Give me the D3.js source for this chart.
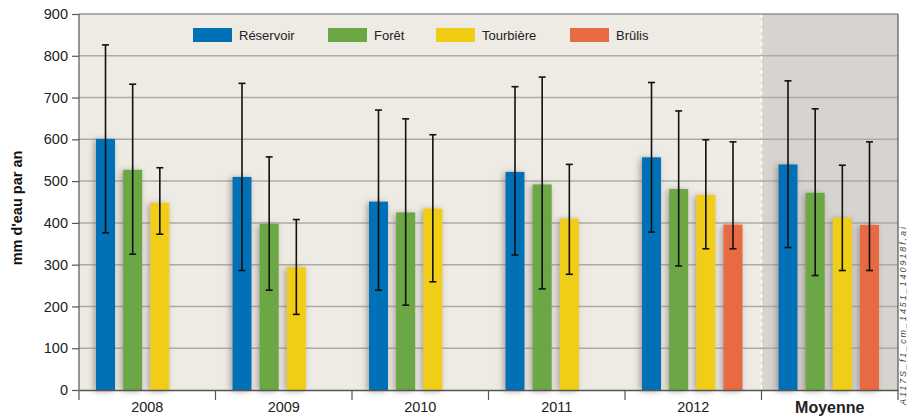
<!DOCTYPE html>
<html>
<head>
<meta charset="utf-8">
<script src="https://cdn.jsdelivr.net/npm/d3@7"></script>
<style>
  html, body { margin: 0; padding: 0; background: #ffffff; }
  svg { display: block; font-family: "Liberation Sans", Arial, sans-serif; }
</style>
</head>
<body>
<svg id="chart" width="912" height="417"></svg>
<script>
// Annual water amounts (mm/year) by site type, with min–max ranges
const categories = ["2008", "2009", "2010", "2011", "2012", "Moyenne"];
const series = ["Réservoir", "Forêt", "Tourbière", "Brûlis"];
const colors = ["#0071b7", "#6ca745", "#f0cd14", "#e86a42"];

const reservoir     = [601, 510, 451, 522, 557, 540];
const reservoirLow  = [376, 286, 239, 323, 378, 341];
const reservoirHigh = [826, 734, 670, 726, 736, 740];

const foret     = [527, 398, 425, 492, 481, 472];
const foretLow  = [325, 239, 203, 242, 297, 274];
const foretHigh = [732, 558, 649, 749, 668, 673];

const tourbiere     = [448, 294, 434, 410, 467, 412];
const tourbiereLow  = [373, 181, 259, 277, 338, 286];
const tourbiereHigh = [532, 408, 611, 540, 599, 538];

const brulis     = [null, null, null, null, 396, 395];
const brulisLow  = [null, null, null, null, 338, 286];
const brulisHigh = [null, null, null, null, 594, 594];

const yTicks = [0, 100, 200, 300, 400, 500, 600, 700, 800, 900];

const valueSets = [
  [reservoir, reservoirLow, reservoirHigh],
  [foret, foretLow, foretHigh],
  [tourbiere, tourbiereLow, tourbiereHigh],
  [brulis, brulisLow, brulisHigh]
];

const rows = [];
categories.forEach((c, i) => {
  series.forEach((s, j) => {
    const [v, lo, hi] = valueSets[j];
    if (v[i] != null) rows.push({ cat: c, ser: s, idx: j, value: v[i], low: lo[i], high: hi[i] });
  });
});

const svg = d3.select("#chart");
const plotL = 79, plotR = 898, plotT = 14, plotB = 390;
const font = "Liberation Sans, Arial, sans-serif";

const x = d3.scaleBand().domain(categories).range([plotL, plotR]).padding(0);
const xs = d3.scaleBand().domain(series)
  .range([17, x.bandwidth() - 19]).paddingInner(0.3).paddingOuter(0);
const y = d3.scaleLinear().domain([0, 900]).range([plotB, plotT]);

const defs = svg.append("defs");
const f = defs.append("filter").attr("id", "barShadow")
  .attr("x", "-60%").attr("y", "-10%").attr("width", "220%").attr("height", "120%");
f.append("feDropShadow").attr("dx", -2).attr("dy", 1).attr("stdDeviation", 3)
  .attr("flood-color", "#6f6a64").attr("flood-opacity", 0.6);

// plot backgrounds
svg.append("rect").attr("x", plotL).attr("y", plotT)
  .attr("width", plotR - plotL).attr("height", plotB - plotT).attr("fill", "#eeeae4");
svg.append("rect").attr("x", x("Moyenne")).attr("y", plotT)
  .attr("width", x.bandwidth()).attr("height", plotB - plotT).attr("fill", "#d7d4cf");

// horizontal gridlines
svg.append("g").selectAll("line").data(yTicks.filter(t => t > 0 && t < 900)).join("line")
  .attr("x1", plotL).attr("x2", plotR)
  .attr("y1", d => y(d)).attr("y2", d => y(d))
  .attr("stroke", "#aeaba6").attr("stroke-width", 1.5);

// dashed separator before the average
svg.append("line")
  .attr("x1", x("Moyenne")).attr("x2", x("Moyenne"))
  .attr("y1", plotT).attr("y2", plotB)
  .attr("stroke", "#ffffff").attr("stroke-width", 1.5).attr("stroke-dasharray", "4,3");

// bars
const bars = svg.append("g").attr("filter", "url(#barShadow)");
bars.selectAll("rect").data(rows).join("rect")
  .attr("x", d => x(d.cat) + xs(d.ser))
  .attr("width", xs.bandwidth())
  .attr("y", d => y(d.value))
  .attr("height", d => y(0) - y(d.value))
  .attr("fill", d => colors[d.idx]);

// error bars
const eb = svg.append("g").attr("stroke", "#111").attr("stroke-width", 1.6);
rows.forEach(d => {
  const cx = x(d.cat) + xs(d.ser) + xs.bandwidth() / 2;
  eb.append("line").attr("x1", cx).attr("x2", cx).attr("y1", y(d.low)).attr("y2", y(d.high));
  [d.low, d.high].forEach(v => {
    eb.append("line").attr("x1", cx - 3.5).attr("x2", cx + 3.5).attr("y1", y(v)).attr("y2", y(v));
  });
});

// frame: top and right edges
svg.append("line").attr("x1", plotL).attr("x2", plotR).attr("y1", plotT).attr("y2", plotT)
  .attr("stroke", "#666").attr("stroke-width", 1.2);
svg.append("line").attr("x1", plotR).attr("x2", plotR).attr("y1", plotT).attr("y2", plotB + 10)
  .attr("stroke", "#555").attr("stroke-width", 1.2);

// y axis
const yAxis = svg.append("g").attr("transform", `translate(${plotL},0)`)
  .call(d3.axisLeft(y).tickValues(yTicks).tickSize(7).tickPadding(4));
yAxis.select(".domain").attr("d", `M0,${plotT}V${plotB + 10}`).attr("stroke", "#555").attr("stroke-width", 1.2);
yAxis.selectAll(".tick line").attr("stroke", "#555").attr("stroke-width", 1.2);
yAxis.selectAll(".tick text").attr("font-size", 14.5).attr("fill", "#222")
  .attr("font-family", font);

// x axis
const xAxis = svg.append("g").attr("transform", `translate(0,${plotB})`)
  .call(d3.axisBottom(x).tickSize(0).tickPadding(12));
xAxis.select(".domain").attr("stroke", "#555").attr("stroke-width", 1.5);
xAxis.selectAll(".tick text").attr("font-size", 14.5).attr("fill", "#222")
  .attr("font-family", font)
  .filter(d => d === "Moyenne").attr("font-weight", "bold").attr("font-size", 16);
svg.append("g").selectAll("line").data(categories.slice(1)).join("line")
  .attr("x1", d => x(d)).attr("x2", d => x(d))
  .attr("y1", plotB).attr("y2", plotB + 10)
  .attr("stroke", "#555").attr("stroke-width", 1.2);

// y title
svg.append("text")
  .attr("transform", `translate(22,${(plotT + plotB) / 2 + 6}) rotate(-90)`)
  .attr("text-anchor", "middle").attr("font-size", 14.5).attr("font-weight", "bold")
  .attr("fill", "#111").text("mm d'eau par an");

// legend
const legendX = [193, 328, 436, 570];
const lg = svg.append("g");
series.forEach((s, i) => {
  lg.append("rect").attr("x", legendX[i]).attr("y", 28).attr("width", 39).attr("height", 14)
    .attr("fill", colors[i]);
  lg.append("text").attr("x", legendX[i] + 46).attr("y", 40)
    .attr("font-size", 13).attr("fill", "#222").text(s);
});

// file reference along the right edge
svg.append("text")
  .attr("transform", "translate(906,405) rotate(-90)")
  .attr("font-size", 9).attr("font-style", "italic").attr("fill", "#444")
  .attr("textLength", 178).attr("lengthAdjust", "spacing")
  .text("A117S_f1_cm_1451_140918f.ai");
</script>
</body>
</html>
